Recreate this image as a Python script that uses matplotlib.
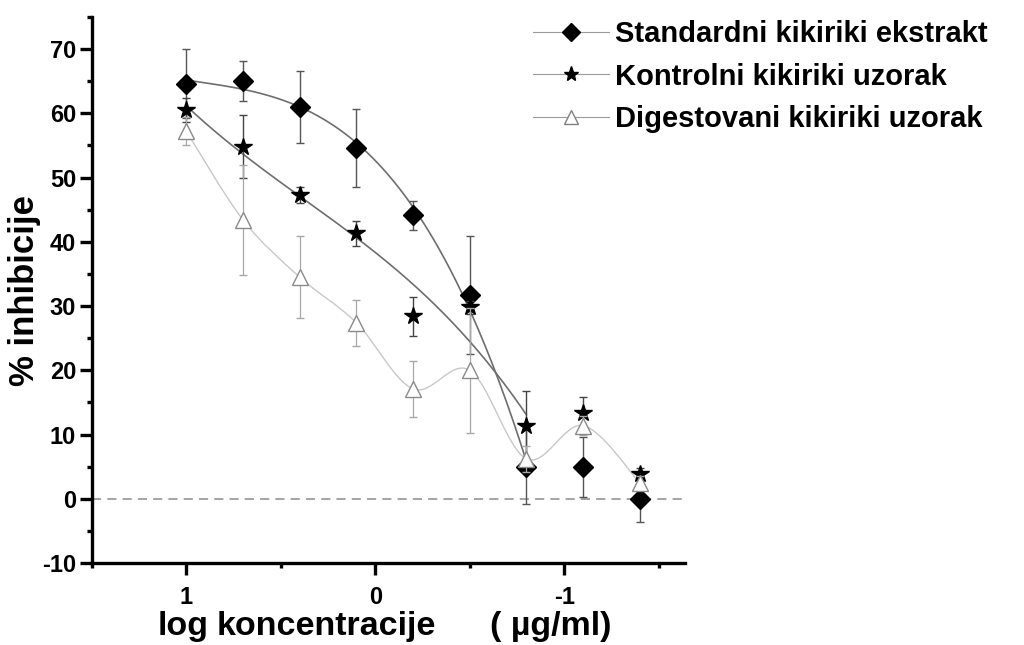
import numpy as np
import matplotlib
matplotlib.use('Agg')
import matplotlib.pyplot as plt
from matplotlib.lines import Line2D
from matplotlib.path import Path
from matplotlib.patches import PathPatch
from matplotlib.ticker import MultipleLocator, FixedLocator

# podaci ocitani sa grafika
log_konc = [1.0, 0.7, 0.4, 0.1, -0.2, -0.5, -0.8, -1.1, -1.4]

standard = [64.6, 65.0, 61.0, 54.6, 44.1, 31.7, 5.0, 4.9, 0.0]
standard_err = [5.4, 3.1, 5.6, 6.0, 2.3, 9.2, 5.8, 4.7, 3.6]

kontrolni = [60.5, 54.8, 47.3, 41.3, 28.4, 29.8, 11.4, 13.4, 3.9]
kontrolni_err = [1.9, 4.9, 1.2, 1.9, 3.0, 1.0, 5.3, 2.4, 0.9]

digestovani = [57.2, 43.4, 34.5, 27.4, 17.1, 20.0, 6.2, 11.4, 2.5]
digestovani_err = [2.2, 8.6, 6.4, 3.6, 4.3, 9.7, 2.0, 1.5, 1.0]

nazivi = ['Standardni kikiriki ekstrakt',
          'Kontrolni kikiriki uzorak',
          'Digestovani kikiriki uzorak']

n_fit = 7  # tacke koje ulaze u fit (do -0.8)

plt.rcParams['font.family'] = ['Liberation Sans', 'DejaVu Sans']
plt.rcParams['font.weight'] = 'bold'
plt.rcParams['axes.unicode_minus'] = False


def catmull_rom(x, y):
    """Glatka kriva kroz sve tacke (Catmull-Rom -> Bezier)."""
    P = np.column_stack([x, y])
    P = np.vstack([P[0], P, P[-1]])
    verts = [tuple(P[1])]
    codes = [Path.MOVETO]
    for i in range(1, len(P) - 2):
        c1 = P[i] + (P[i + 1] - P[i - 1]) / 6.0
        c2 = P[i + 1] - (P[i + 2] - P[i]) / 6.0
        verts += [tuple(c1), tuple(c2), tuple(P[i + 1])]
        codes += [Path.CURVE4] * 3
    return Path(verts, codes)


fig = plt.figure(figsize=(10.24, 6.45), dpi=100)
ax = fig.add_axes([92 / 1024, 82 / 645, (685 - 92) / 1024, (563 - 17) / 645])

x = np.array(log_konc)

# fitovane krive
xs = np.linspace(x[0], x[n_fit - 1], 200)
for vals in [standard, kontrolni]:
    koef = np.polyfit(x[:n_fit], np.array(vals)[:n_fit], 3)
    ax.plot(xs, np.polyval(koef, xs), color='#6e6e6e', lw=1.2, zorder=2)

ax.add_patch(PathPatch(catmull_rom(x, digestovani), fill=False,
                       edgecolor='#c8c8c8', lw=1.0, zorder=1))

ax.axhline(0, color='#8c8c8c', lw=1.1, ls=(0, (6, 4)), zorder=0)

ax.errorbar(x, standard, yerr=standard_err, fmt='D', color='black',
            ms=10, ecolor='#555555', elinewidth=1.0, capsize=3, capthick=1.0, zorder=3)
ax.errorbar(x, kontrolni, yerr=kontrolni_err, fmt='*', color='black',
            ms=13, ecolor='#444444', elinewidth=1.0, capsize=3, capthick=1.0, zorder=4)
ax.errorbar(x, digestovani, yerr=digestovani_err, fmt='^', mfc='white', mec='#8a8a8a',
            mew=1.0, ms=12, ecolor='#a8a8a8', elinewidth=0.9, capsize=3, capthick=0.9, zorder=5)

ax.set_xlim(1.5, -1.64)
ax.set_ylim(-10, 75)
ax.xaxis.set_major_locator(FixedLocator([1, 0, -1]))
ax.xaxis.set_minor_locator(FixedLocator([1.5, 0.5, -0.5, -1.5]))
ax.set_xticklabels(['1', '0', '-1'])
ax.yaxis.set_major_locator(MultipleLocator(10))
ax.yaxis.set_minor_locator(MultipleLocator(5))

for s in ['top', 'right']:
    ax.spines[s].set_visible(False)
for s in ['left', 'bottom']:
    ax.spines[s].set_linewidth(2.4)
ax.tick_params(which='major', direction='out', length=8.5, width=2.4, labelsize=17)
ax.tick_params(which='minor', direction='out', length=3.8, width=2.4)
ax.tick_params(axis='y', which='major', pad=3)
ax.tick_params(axis='x', which='major', pad=8)
for lab in ax.get_xticklabels() + ax.get_yticklabels():
    lab.set_fontweight('bold')

fig.text(25 / 1024, 1 - 291 / 645, '% inhibicije', rotation=90, fontsize=25,
         fontweight='bold', ha='center', va='center')
# naziv x ose u tri dela, kao na originalu
for tekst, xc in [('log', 183), ('koncentracije', 326.5), ('( µg/ml)', 550.5)]:
    fig.text(xc / 1024, 1 - 626 / 645, tekst, fontsize=24.5,
             fontweight='bold', ha='center', va='center')

handles = [
    Line2D([], [], color='#9a9a9a', lw=0.8, marker='D', ms=9, mfc='black', mec='black'),
    Line2D([], [], color='#9a9a9a', lw=0.8, marker='*', ms=11, mfc='black', mec='black'),
    Line2D([], [], color='#9a9a9a', lw=0.8, marker='^', ms=10, mfc='white', mec='#808080'),
]
fig.legend(handles, nazivi, loc='upper left', bbox_to_anchor=(533 / 1024, 1 - 20 / 645),
           frameon=False, handlelength=2.6, handletextpad=0.2,
           labelspacing=0.5, borderpad=0, borderaxespad=0,
           prop={'weight': 'bold', 'size': 21})

fig.savefig('out.png', dpi=100)
